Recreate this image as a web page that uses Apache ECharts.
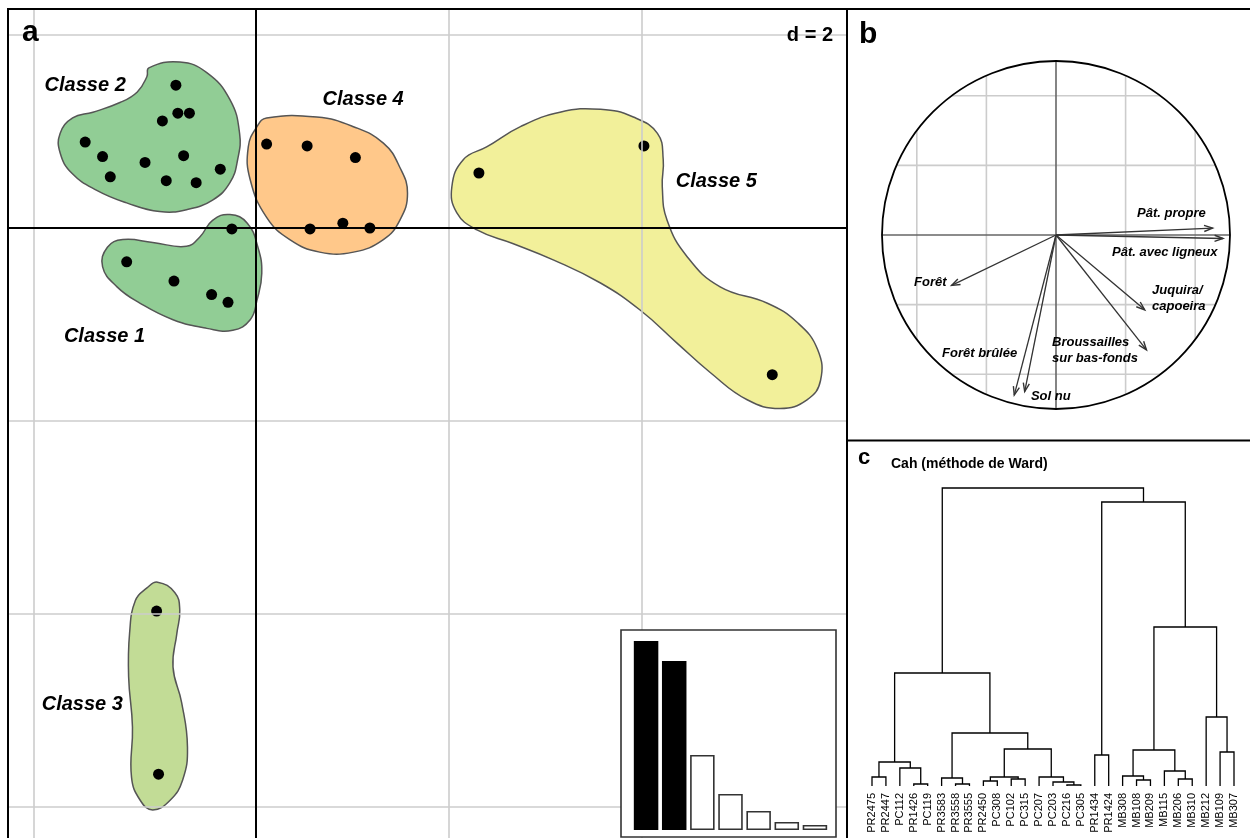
<!DOCTYPE html>
<html lang="fr">
<head>
<meta charset="utf-8">
<title>ACP, classes et Cah</title>
<script src="https://cdn.jsdelivr.net/npm/echarts@6.0.0/dist/echarts.min.js"></script>
<style>
  html, body { margin: 0; padding: 0; background: #fff; }
  #chart { width: 1250px; height: 838px; }
</style>
</head>
<body>
<div id="chart"></div>
<script>
/* ================================================================
   a — plan factoriel (d = 2), classes et valeurs propres
   ================================================================ */
const classNames = ["Classe 1", "Classe 2", "Classe 3", "Classe 4", "Classe 5"];
const classColors = ["rgba(126,196,131,0.85)", "rgba(126,196,131,0.85)", "rgba(183,214,132,0.85)",
                     "rgba(255,190,117,0.85)", "rgba(240,237,136,0.85)"];

const ptsClasse1 = [[-0.25, -0.01], [-1.34, -0.35], [-0.85, -0.55], [-0.46, -0.69], [-0.29, -0.77]];
const ptsClasse2 = [[-0.83, 1.48], [-0.81, 1.19], [-0.69, 1.19], [-0.97, 1.11], [-1.77, 0.89], [-1.59, 0.74],
                    [-1.15, 0.68], [-0.75, 0.75], [-1.51, 0.53], [-0.93, 0.49], [-0.62, 0.47], [-0.37, 0.61]];
const ptsClasse3 = [[-1.03, -3.97], [-1.01, -5.66]];
const ptsClasse4 = [[0.11, 0.87], [0.53, 0.85], [1.03, 0.73], [0.56, -0.01], [0.90, 0.05], [1.18, 0.00]];
const ptsClasse5 = [[2.31, 0.57], [4.02, 0.85], [5.35, -1.52]];

// contours des classes (coordonnées factorielles)
const hullClasse1 = [[-0.45, 0.08], [-0.27, 0.14], [-0.09, 0.05], [0.02, -0.20], [0.06, -0.47], [0.01, -0.75],
                     [-0.06, -0.95], [-0.24, -1.06], [-0.51, -1.04], [-0.86, -0.95], [-1.20, -0.78], [-1.44, -0.61],
                     [-1.59, -0.40], [-1.54, -0.20], [-1.38, -0.12], [-1.07, -0.15], [-0.72, -0.19], [-0.58, -0.09]];
const hullClasse2 = [[-1.11, 1.66], [-0.79, 1.72], [-0.51, 1.61], [-0.27, 1.33], [-0.17, 0.98], [-0.19, 0.71],
                     [-0.27, 0.47], [-0.45, 0.29], [-0.72, 0.19], [-1.00, 0.17], [-1.34, 0.26], [-1.65, 0.39],
                     [-1.91, 0.57], [-2.03, 0.78], [-2.03, 0.98], [-1.90, 1.14], [-1.69, 1.20], [-1.41, 1.30],
                     [-1.23, 1.41], [-1.13, 1.57]];
const hullClasse3 = [[-1.02, -3.67], [-0.84, -3.78], [-0.79, -3.96], [-0.82, -4.20], [-0.86, -4.55], [-0.77, -4.92],
                     [-0.71, -5.38], [-0.76, -5.72], [-0.89, -5.93], [-1.07, -6.03], [-1.20, -5.93], [-1.29, -5.69],
                     [-1.28, -5.17], [-1.32, -4.65], [-1.31, -4.20], [-1.25, -3.86], [-1.13, -3.73]];
const hullClasse4 = [[0.11, 1.14], [0.63, 1.15], [1.01, 1.05], [1.32, 0.88], [1.49, 0.63], [1.57, 0.36],
                     [1.49, 0.08], [1.32, -0.12], [1.01, -0.25], [0.66, -0.25], [0.35, -0.12], [0.11, 0.11],
                     [-0.06, 0.50], [-0.08, 0.84], [0.01, 1.05]];
const hullClasse5 = [[2.03, 0.43], [2.15, 0.71], [2.39, 0.84], [2.74, 1.05], [3.15, 1.20], [3.57, 1.23],
                     [3.91, 1.15], [4.16, 0.98], [4.22, 0.71], [4.21, 0.43], [4.26, 0.08], [4.47, -0.30],
                     [4.81, -0.61], [5.30, -0.78], [5.61, -0.98], [5.82, -1.26], [5.85, -1.58], [5.71, -1.78],
                     [5.43, -1.87], [5.09, -1.78], [4.71, -1.50], [4.36, -1.19], [3.98, -0.85], [3.57, -0.57],
                     [3.08, -0.33], [2.66, -0.16], [2.29, -0.02], [2.08, 0.16]];
const classLabelPos = [[-1.57, -1.12], [-1.77, 1.48], [-1.80, -4.94], [1.11, 1.33], [4.77, 0.48]];

const gridX = [-2.3, 2, 4];
const gridY = [2, -2, -4, -6];

// valeurs propres (encart)
const eigLabels = ["1", "2", "3", "4", "5", "6", "7"];
const eigValues = [3.78, 3.38, 1.50, 0.72, 0.38, 0.16, 0.10];
const eigKept = 2;

/* ===== b — cercle des corrélations ===== */
const varNames = ["Pât. propre", "Pât. avec ligneux", "Forêt", "Juquira/\ncapoeira",
                  "Broussailles\nsur bas-fonds", "Forêt brûlée", "Sol nu"];
const varCoords = [[0.90, 0.04], [0.96, -0.02], [-0.60, -0.29], [0.51, -0.43], [0.52, -0.66], [-0.24, -0.92], [-0.18, -0.90]];
const varLabelPos = [[0.466, 0.126], [0.322, -0.098], [-0.816, -0.270], [0.552, -0.362], [-0.023, -0.661],
                     [-0.655, -0.678], [-0.144, -0.925]];
const gridB = [-0.8, -0.4, 0.4, 0.8];

/* ===== c — Cah (méthode de Ward) ===== */
const leaves = ["PR2475", "PR2447", "PC112", "PR1426", "PC119", "PR3583", "PR3558", "PR3555", "PR2450",
                "PC308", "PC102", "PC315", "PC207", "PC203", "PC216", "PC305", "PR1434", "PR1424",
                "MB308", "MB108", "MB209", "MB115", "MB206", "MB310", "MB212", "MB109", "MB307"];
// fusions façon hclust : négatif = feuille, positif = fusion précédente ; hauteur
const merges = [
    [-15, -16, 1], [-4, -5, 2], [-7, -8, 2], [-14, 1, 4], [-9, -10, 5], [-20, -21, 6], [-11, -12, 7],
    [-23, -24, 7], [-6, 3, 8], [-1, -2, 9], [5, 7, 9], [-13, 4, 9], [-19, 6, 10], [-22, 8, 15],
    [-3, 2, 18], [10, 15, 24], [-17, -18, 31], [-26, -27, 34], [13, 14, 36], [11, 12, 37],
    [9, 20, 53], [-25, 18, 69], [16, 21, 113], [19, 22, 159], [17, 24, 284], [23, 25, 298]
];

/* ===== construction ===== */
const FONT = '"Liberation Sans", Arial, Helvetica, sans-serif';
const allHulls = [hullClasse1, hullClasse2, hullClasse3, hullClasse4, hullClasse5];
const allPts = [ptsClasse1, ptsClasse2, ptsClasse3, ptsClasse4, ptsClasse5];

const nodes = [];
const dendroSegs = [];
merges.forEach(([a, b, h]) => {
    const ca = a < 0 ? { x: -a - 1, h: 0 } : nodes[a - 1];
    const cb = b < 0 ? { x: -b - 1, h: 0 } : nodes[b - 1];
    nodes.push({ x: (ca.x + cb.x) / 2, h: h });
    dendroSegs.push([ca.x, ca.h, cb.x, cb.h, h]);
});

const hidden = { show: false };
const chart = echarts.init(document.getElementById("chart"));

chart.setOption({
    animation: false,
    textStyle: { fontFamily: FONT },
    grid: [
        { left: 8, top: 10, width: 839, height: 828 },      // a
        { left: 632, top: 630, width: 197, height: 200 },   // encart
        { left: 882, top: 61, width: 348, height: 348 },    // b
        { left: 872, top: 486, width: 362, height: 300 },   // c
    ],
    xAxis: [
        { gridIndex: 0, type: "value", min: -2.5699, max: 6.1244, show: false },
        { gridIndex: 1, type: "category", data: eigLabels, show: false },
        { gridIndex: 2, type: "value", min: -1, max: 1, show: false },
        { gridIndex: 3, type: "value", min: 0, max: 26, interval: 1,
          axisLine: hidden, axisTick: hidden, splitLine: hidden,
          axisLabel: { show: true, rotate: 90, margin: 7, fontSize: 11, color: "#000", fontFamily: FONT,
                       showMinLabel: true, showMaxLabel: true, formatter: v => leaves[v] || "" } },
    ],
    yAxis: [
        { gridIndex: 0, type: "value", min: -6.3212, max: 2.2591, show: false },
        { gridIndex: 1, type: "value", min: 0, max: 4, show: false },
        { gridIndex: 2, type: "value", min: -1, max: 1, show: false },
        { gridIndex: 3, type: "value", min: 0, max: 300, show: false },
    ],
    series: [
        {   // quadrillage gris
            type: "line", xAxisIndex: 0, yAxisIndex: 0, data: [], z: 1, silent: true,
            markLine: {
                silent: true, symbol: "none", label: hidden,
                lineStyle: { color: "#cccccc", width: 1.6, type: "solid" },
                data: [...gridX.map(v => ({ xAxis: v })), ...gridY.map(v => ({ yAxis: v }))],
            },
        },
        {   // contours des classes
            type: "custom", xAxisIndex: 0, yAxisIndex: 0, z: 2, silent: true,
            data: classNames.map((n, i) => ({ name: n, value: [0, 0, i] })),
            renderItem(params, api) {
                const i = params.dataIndex;
                return {
                    type: "polygon",
                    shape: { points: allHulls[i].map(p => api.coord(p)), smooth: 0.45 },
                    style: { fill: classColors[i], stroke: "#555", lineWidth: 1.5 },
                };
            },
        },
        {   // axes
            type: "line", xAxisIndex: 0, yAxisIndex: 0, data: [], z: 3, silent: true,
            markLine: {
                silent: true, symbol: "none", label: hidden,
                lineStyle: { color: "#000", width: 2, type: "solid" },
                data: [{ xAxis: 0 }, { yAxis: 0 }],
            },
        },
        {   // relevés
            type: "scatter", xAxisIndex: 0, yAxisIndex: 0, z: 4, symbolSize: 11,
            itemStyle: { color: "#000", opacity: 1 },
            data: [].concat(...allPts),
        },
        {   // noms des classes
            type: "scatter", xAxisIndex: 0, yAxisIndex: 0, z: 5, symbolSize: 0,
            itemStyle: { opacity: 1 },
            data: classNames.map((n, i) => ({ name: n, value: classLabelPos[i] })),
            label: {
                show: true, position: "inside", formatter: p => p.name,
                fontSize: 20, fontWeight: "bold", fontStyle: "italic", color: "#000", fontFamily: FONT,
            },
        },
        {   // encart valeurs propres
            type: "bar", xAxisIndex: 1, yAxisIndex: 1, z: 10, barWidth: 24.5,
            data: eigValues.map((v, i) => ({
                value: v,
                itemStyle: i < eigKept
                    ? { color: "#000", borderColor: "#000", borderWidth: 0 }
                    : { color: "#fff", borderColor: "#333", borderWidth: 1.6 },
            })),
        },
        {   // cercle, quadrillage et axes
            type: "custom", xAxisIndex: 2, yAxisIndex: 2, z: 2, silent: true,
            data: [[0, 0]],
            renderItem(params, api) {
                const c = api.coord([0, 0]);
                const r = api.size([1, 0])[0];
                const kids = [];
                const seg = (p, q, stroke, w) => {
                    const a = api.coord(p), b = api.coord(q);
                    kids.push({ type: "line", shape: { x1: a[0], y1: a[1], x2: b[0], y2: b[1] },
                                style: { stroke: stroke, lineWidth: w } });
                };
                gridB.forEach(v => {
                    const s = Math.sqrt(1 - v * v);
                    seg([v, -s], [v, s], "#cccccc", 1.6);
                    seg([-s, v], [s, v], "#cccccc", 1.6);
                });
                seg([-1, 0], [1, 0], "#666", 1.6);
                seg([0, -1], [0, 1], "#666", 1.6);
                kids.push({ type: "circle", shape: { cx: c[0], cy: c[1], r: r },
                            style: { fill: "none", stroke: "#000", lineWidth: 1.8 } });
                return { type: "group", children: kids };
            },
        },
        {   // flèches des variables
            type: "custom", xAxisIndex: 2, yAxisIndex: 2, z: 3, silent: true,
            data: varCoords,
            renderItem(params, api) {
                const o = api.coord([0, 0]);
                const p = api.coord([api.value(0), api.value(1)]);
                const a = Math.atan2(p[1] - o[1], p[0] - o[0]);
                const L = 9, phi = Math.PI / 9;
                const h1 = [p[0] - L * Math.cos(a - phi), p[1] - L * Math.sin(a - phi)];
                const h2 = [p[0] - L * Math.cos(a + phi), p[1] - L * Math.sin(a + phi)];
                return { type: "group", children: [
                    { type: "line", shape: { x1: o[0], y1: o[1], x2: p[0], y2: p[1] },
                      style: { stroke: "#333", lineWidth: 1.3 } },
                    { type: "polyline", shape: { points: [h1, p, h2] },
                      style: { stroke: "#333", lineWidth: 1.4, fill: "none" } },
                ] };
            },
        },
        {   // noms des variables
            type: "scatter", xAxisIndex: 2, yAxisIndex: 2, z: 4, symbolSize: 0,
            itemStyle: { opacity: 1 },
            data: varNames.map((n, i) => ({ name: n, value: varLabelPos[i] })),
            label: {
                show: true, position: "right", distance: 0, formatter: p => p.name,
                fontSize: 13, fontWeight: "bold", fontStyle: "italic", color: "#000", lineHeight: 16,
                align: "left", verticalAlign: "middle", fontFamily: FONT,
            },
        },
        {   // dendrogramme
            type: "custom", xAxisIndex: 3, yAxisIndex: 3, z: 3, silent: true,
            data: dendroSegs,
            renderItem(params, api) {
                const v = [0, 1, 2, 3, 4].map(k => api.value(k));
                const pts = [api.coord([v[0], v[1]]), api.coord([v[0], v[4]]),
                             api.coord([v[2], v[4]]), api.coord([v[2], v[3]])];
                return { type: "polyline", shape: { points: pts },
                         style: { stroke: "#000", lineWidth: 1.3, fill: "none" } };
            },
        },
    ],
    graphic: [
        // cadres des panneaux
        { type: "line", z: 30, shape: { x1: 7, y1: 9, x2: 1250, y2: 9 }, style: { stroke: "#000", lineWidth: 2 } },
        { type: "line", z: 30, shape: { x1: 8, y1: 9, x2: 8, y2: 838 }, style: { stroke: "#000", lineWidth: 2 } },
        { type: "line", z: 30, shape: { x1: 847, y1: 9, x2: 847, y2: 838 }, style: { stroke: "#000", lineWidth: 2 } },
        { type: "line", z: 30, shape: { x1: 847, y1: 440.5, x2: 1250, y2: 440.5 }, style: { stroke: "#000", lineWidth: 2 } },
        // cadre de l'encart
        { type: "rect", z: 6, shape: { x: 621, y: 630, width: 215, height: 207 },
          style: { fill: "#fff", stroke: "#333", lineWidth: 1.6 } },
        // lettres et titres
        { type: "text", z: 30, x: 22, y: 32.5,
          style: { text: "a", font: "bold 30px " + FONT, fill: "#000", align: "left", verticalAlign: "middle" } },
        { type: "text", z: 30, x: 833, y: 35,
          style: { text: "d = 2", font: "bold 20px " + FONT, fill: "#000", align: "right", verticalAlign: "middle" } },
        { type: "text", z: 30, x: 859, y: 34.5,
          style: { text: "b", font: "bold 30px " + FONT, fill: "#000", align: "left", verticalAlign: "middle" } },
        { type: "text", z: 30, x: 858, y: 458,
          style: { text: "c", font: "bold 22px " + FONT, fill: "#000", align: "left", verticalAlign: "middle" } },
        { type: "text", z: 30, x: 891, y: 464,
          style: { text: "Cah (méthode de Ward)", font: "bold 14px " + FONT, fill: "#000", align: "left", verticalAlign: "middle" } },
    ],
});
</script>
</body>
</html>
